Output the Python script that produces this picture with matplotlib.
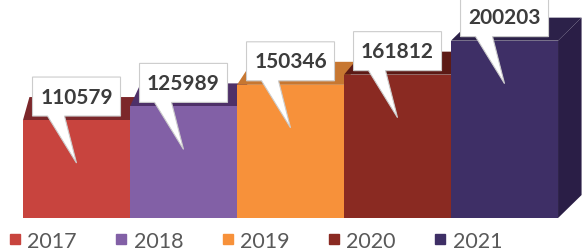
import matplotlib.pyplot as plt
from matplotlib.patches import Polygon
from matplotlib.lines import Line2D

# data
years = ['2017', '2018', '2019', '2020', '2021']
values = [110579, 125989, 150346, 161812, 200203]

front_colors = ['#C8443E', '#8260A6', '#F7913A', '#8A2A22', '#3E2F66']
top_colors = ['#7C272A', '#4E3068', '#C77731', '#5C1A15', '#2C2149']
side_color = '#2A1E46'

W, H = 582, 251
fig = plt.figure(figsize=(W / 100, H / 100), dpi=100)
ax = fig.add_axes([0, 0, 1, 1])
x_lim = (-0.215, 5.224)
y_lim = (-36100, 247200)
ax.set_xlim(*x_lim)
ax.set_ylim(*y_lim)
ax.axis('off')

# size of one pixel in data units, used for the fake 3d depth and callouts
px_x = (x_lim[1] - x_lim[0]) / W
px_y = (y_lim[1] - y_lim[0]) / H
depth_y = 23 * px_y

for i, (v, fc, tc) in enumerate(zip(values, front_colors, top_colors)):
    depth_x = 0.06 + 0.04 * i
    z = 2 + 3 * i
    if i == len(values) - 1:
        side = Polygon([(i + 1, 0), (i + 1, v), (i + 1 + depth_x, v + depth_y),
                        (i + 1 + depth_x, depth_y)], closed=True,
                       facecolor=side_color, edgecolor='none', zorder=z, clip_on=False)
        ax.add_patch(side)
    top = Polygon([(i, v), (i + 1, v), (i + 1 + depth_x, v + depth_y),
                   (i + depth_x, v + depth_y)], closed=True,
                  facecolor=tc, edgecolor='none', zorder=z)
    ax.add_patch(top)
    ax.bar(i, v, width=1, align='edge', color=fc, edgecolor='none', zorder=z + 1)

# callout boxes with a tail pointing into each bar
for i, v in enumerate(values):
    cx = i + 0.5
    b = v + 4 * px_y
    t = b + 39 * px_y
    tip = v - 43 * px_y
    pts = [(cx - 44 * px_x, b), (cx - 29 * px_x, b), (cx, tip), (cx - 12 * px_x, b),
           (cx + 44 * px_x, b), (cx + 44 * px_x, t), (cx - 44 * px_x, t)]
    ax.add_patch(Polygon(pts, closed=True, facecolor='white', edgecolor='#cccccc',
                         linewidth=0.8, zorder=30, clip_on=False))
    ax.text(cx, (b + t) / 2, str(v), ha='center', va='center', fontsize=15,
            fontweight='bold', family='Lato', color='#3c3c3c', zorder=31)

handles = [Line2D([], [], marker='s', linestyle='none', color=c, markersize=7)
           for c in front_colors]
ax.legend(handles, years, ncol=5, loc='center left',
          bbox_to_anchor=(10 / W, (H - 242) / H), frameon=False,
          prop={'family': 'Lato', 'size': 15.5}, labelcolor='#595959',
          handlelength=0.45, handletextpad=0.35, columnspacing=1.84,
          borderaxespad=0, borderpad=0)

fig.savefig('out.png', dpi=100)
